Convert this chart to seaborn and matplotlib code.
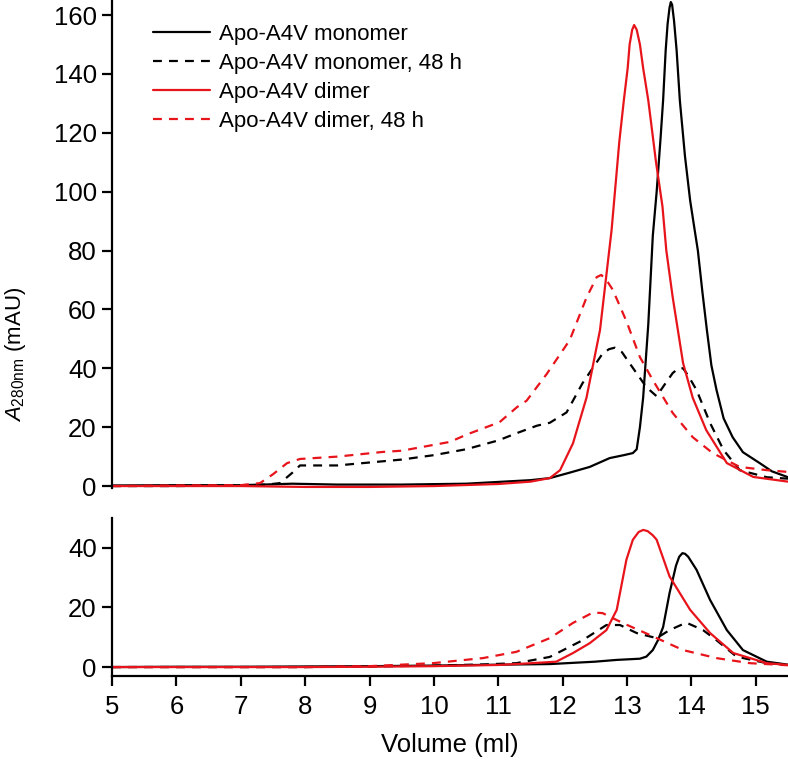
import numpy as np
import pandas as pd
import matplotlib
matplotlib.use("Agg")
import matplotlib.pyplot as plt
import seaborn as sns

# ---------------- data ----------------
series_names = ["Apo-A4V monomer", "Apo-A4V monomer, 48 h",
                "Apo-A4V dimer", "Apo-A4V dimer, 48 h"]

# top panel
top_mono_x = [5.0, 6.0, 7.0, 7.5, 7.8, 8.5, 9.5, 10.5, 11.0, 11.5, 11.8, 12.1, 12.42, 12.73, 12.95, 13.09,
              13.15, 13.2, 13.25, 13.33, 13.40, 13.46, 13.52, 13.56, 13.60, 13.63, 13.66, 13.68, 13.70,
              13.73, 13.77, 13.82, 13.90, 13.98, 14.05, 14.10, 14.17, 14.24, 14.31, 14.39, 14.5, 14.64,
              14.8, 15.06, 15.25, 15.5]
top_mono_y = [0.2, 0.3, 0.3, 0.6, 0.8, 0.5, 0.5, 0.8, 1.4, 2.0, 2.7, 4.5, 6.5, 9.5, 10.5, 11.2,
              12.5, 20.0, 30.0, 55.0, 85.0, 100.0, 118.0, 131.0, 148.0, 157.0, 162.5, 164.4, 163.5,
              158.0, 148.0, 131.0, 112.0, 97.0, 87.0, 80.0, 66.0, 53.0, 41.0, 32.6, 23.0, 16.6,
              11.5, 7.8, 5.0, 3.0]

top_mono48_x = [5.0, 6.0, 7.0, 7.4, 7.61, 7.8, 7.92, 8.2, 8.5, 9.0, 9.5, 10.0, 10.5, 11.0, 11.29, 11.6,
                11.8, 12.06, 12.31, 12.62, 12.72, 12.81, 12.92, 13.04, 13.3, 13.46, 13.6, 13.71, 13.8,
                13.87, 13.95, 14.08, 14.29, 14.5, 14.75, 15.17, 15.5]
top_mono48_y = [0.0, 0.0, 0.2, 0.5, 1.0, 4.5, 7.0, 7.0, 7.0, 8.0, 9.0, 10.5, 12.5, 15.5, 18.0, 20.5,
                21.5, 25.0, 35.0, 45.0, 46.5, 47.0, 45.5, 41.7, 33.6, 30.5, 35.0, 38.4, 40.0,
                40.0, 37.5, 32.6, 21.4, 12.2, 5.4, 3.0, 2.5]

top_dim_x = [5.0, 7.0, 8.0, 9.0, 10.0, 11.0, 11.5, 11.8, 11.96, 12.16, 12.37, 12.58, 12.76, 12.80, 12.88,
             12.95, 13.01, 13.04, 13.08, 13.11, 13.15, 13.20, 13.25, 13.33, 13.45, 13.55, 13.61, 13.71,
             13.87, 14.02, 14.23, 14.55, 14.96, 15.5]
top_dim_y = [0.0, 0.0, -0.3, -0.3, 0.0, 0.7, 1.5, 2.7, 5.4, 14.5, 30.0, 53.0, 87.0, 97.0, 117.0,
             131.0, 142.0, 150.0, 155.0, 156.6, 155.0, 150.0, 142.0, 131.0, 110.0, 95.0, 80.0, 64.0,
             41.8, 30.0, 19.0, 7.8, 3.1, 1.5]

top_dim48_x = [5.0, 6.0, 7.0, 7.3, 7.5, 7.72, 7.92, 8.5, 9.21, 9.5, 10.0, 10.25, 10.51, 11.02, 11.29,
               11.44, 11.75, 12.11, 12.37, 12.53, 12.6, 12.68, 12.78, 12.99, 13.2, 13.4, 13.71, 14.02,
               14.33, 14.75, 15.17, 15.5]
top_dim48_y = [0.0, 0.2, 0.3, 1.0, 4.0, 7.8, 9.2, 10.0, 11.6, 12.0, 14.0, 15.0, 17.5, 21.7, 26.8,
               29.0, 38.0, 49.6, 64.0, 71.0, 71.7, 70.0, 66.6, 56.0, 43.8, 36.0, 24.8, 16.6,
               11.2, 6.5, 5.4, 4.8]

# bottom panel
bot_mono_x = [5.0, 6.0, 7.0, 8.0, 9.0, 10.0, 11.0, 11.8, 12.5, 12.84, 13.2, 13.3, 13.4, 13.48, 13.56,
              13.66, 13.76, 13.81, 13.86, 13.90, 13.95, 14.08, 14.29, 14.55, 14.8, 15.17, 15.5]
bot_mono_y = [0.0, 0.1, 0.1, 0.2, 0.3, 0.5, 0.8, 1.0, 1.8, 2.4, 2.8, 3.5, 5.7, 9.0, 13.4,
              24.8, 34.0, 37.0, 38.2, 38.0, 37.0, 32.6, 22.5, 12.4, 5.7, 1.8, 0.8]

bot_mono48_x = [5.0, 8.0, 9.0, 10.0, 10.8, 11.28, 11.8, 12.31, 12.68, 12.89, 13.15, 13.46, 13.66, 13.92,
                14.18, 14.39, 14.7, 15.17, 15.5]
bot_mono48_y = [0.0, 0.0, 0.2, 0.5, 0.9, 1.3, 3.4, 9.0, 14.1, 14.1, 11.4, 9.7, 12.4, 14.9,
                12.4, 9.0, 3.5, 1.3, 0.8]

bot_dim_x = [5.0, 8.0, 9.0, 10.0, 11.0, 11.28, 11.9, 12.16, 12.42, 12.68, 12.84, 12.99, 13.09, 13.18,
             13.25, 13.32, 13.40, 13.46, 13.66, 13.98, 14.29, 14.65, 15.17, 15.5]
bot_dim_y = [0.0, 0.0, 0.1, 0.3, 0.7, 1.0, 1.8, 4.7, 8.0, 12.4, 19.2, 36.0, 42.7, 45.3,
             46.0, 45.6, 44.2, 42.7, 30.4, 19.2, 11.4, 4.7, 1.3, 0.7]

bot_dim48_x = [5.0, 8.0, 9.0, 9.98, 10.76, 11.28, 11.8, 12.16, 12.47, 12.62, 12.93, 13.35, 13.87, 14.39,
               14.91, 15.5]
bot_dim48_y = [0.0, 0.0, 0.3, 1.3, 3.0, 5.1, 9.7, 14.8, 18.3, 18.1, 14.8, 10.8, 5.7, 3.0,
               1.3, 0.6]

top_yticks = [0, 20, 40, 60, 80, 100, 120, 140, 160]
bot_yticks = [0, 20, 40]
xticks = [5, 6, 7, 8, 9, 10, 11, 12, 13, 14, 15]

# ---------------- styling ----------------
sns.set_theme(style="ticks")
plt.rcParams['font.family'] = ['Liberation Sans', 'DejaVu Sans']
plt.rcParams['text.color'] = 'black'
plt.rcParams['axes.labelcolor'] = 'black'
plt.rcParams['mathtext.fontset'] = 'custom'
plt.rcParams['mathtext.it'] = 'Liberation Sans:italic'
plt.rcParams['mathtext.rm'] = 'Liberation Sans'

palette = {series_names[0]: "black", series_names[1]: "black",
           series_names[2]: "#e8141b", series_names[3]: "#e8141b"}
dashes = {series_names[0]: "", series_names[1]: (4, 3.2),
          series_names[2]: "", series_names[3]: (4, 3.2)}


def make_df(pairs):
    frames = []
    for name, (xs, ys) in zip(series_names, pairs):
        frames.append(pd.DataFrame({"volume": xs, "abs": ys, "series": name}))
    return pd.concat(frames, ignore_index=True)


top_df = make_df([(top_mono_x, top_mono_y), (top_mono48_x, top_mono48_y),
                  (top_dim_x, top_dim_y), (top_dim48_x, top_dim48_y)])
bot_df = make_df([(bot_mono_x, bot_mono_y), (bot_mono48_x, bot_mono48_y),
                  (bot_dim_x, bot_dim_y), (bot_dim48_x, bot_dim48_y)])

W, H = 788, 763
fig = plt.figure(figsize=(W / 100, H / 100), dpi=100)
left = 112 / W
ax_top = fig.add_axes([left, 1 - 489 / H, 1 - left, 489 / H])
ax_bot = fig.add_axes([left, 1 - 676 / H, 1 - left, (676 - 518) / H])

for ax, df in [(ax_top, top_df), (ax_bot, bot_df)]:
    sns.lineplot(data=df, x="volume", y="abs", hue="series", style="series",
                 palette=palette, dashes=dashes, hue_order=series_names,
                 style_order=series_names, sort=False, estimator=None,
                 linewidth=1.6, ax=ax, legend=(ax is ax_top))
    ax.set_xlim(5, 15.5)
    ax.set_xlabel("")
    ax.set_ylabel("")
    for s in ["top", "right"]:
        ax.spines[s].set_visible(False)
    for s in ["left", "bottom"]:
        ax.spines[s].set_linewidth(1.6)
        ax.spines[s].set_color("black")
    ax.tick_params(axis="both", direction="out", length=7, width=1.6,
                   color="black", labelsize=18.5, labelcolor="black", pad=4)

ax_top.set_ylim(-1, 165.1)
ax_top.set_yticks(top_yticks)
ax_top.spines["bottom"].set_visible(False)
ax_top.spines["left"].set_bounds(-0.5, 165.1)
ax_top.tick_params(axis="x", bottom=False, labelbottom=False)

ax_bot.set_ylim(-3, 50)
ax_bot.set_yticks(bot_yticks)
ax_bot.set_xticks(xticks)
ax_bot.tick_params(axis="x", pad=7)
ax_bot.set_xlabel("Volume (ml)", fontsize=18.5, labelpad=10, color="black")

leg = ax_top.legend(loc="upper left", bbox_to_anchor=(0.048, 0.97), frameon=False,
                    fontsize=16, handlelength=2.55, handletextpad=0.4,
                    labelspacing=0.37, borderaxespad=0)
for t in leg.get_texts():
    t.set_color("black")

fig.text(16 / W, 1 - 354 / H, r"$A_{\mathregular{280nm}}$ (mAU)", rotation=90,
         ha="center", va="center", fontsize=16, color="black")

fig.savefig("out.png", dpi=100)
